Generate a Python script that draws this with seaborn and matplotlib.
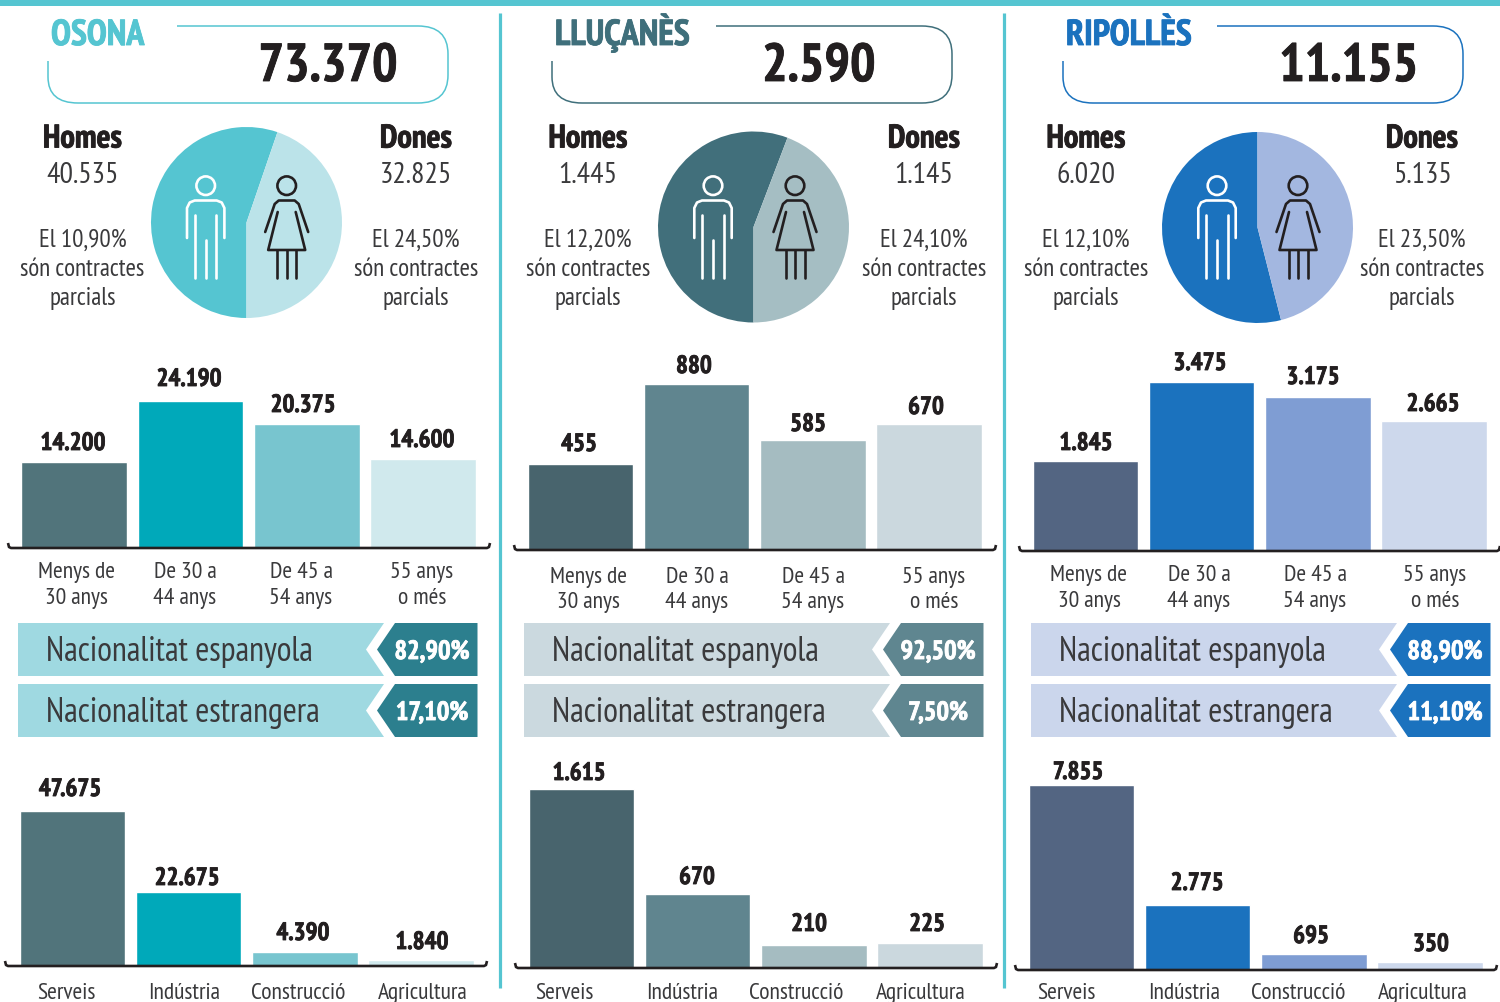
import matplotlib
matplotlib.use('Agg')
import matplotlib.pyplot as plt
import matplotlib.patheffects as pe
from matplotlib.patches import Circle, Polygon, PathPatch
from matplotlib.path import Path
import seaborn as sns

# Data
comarques = ['OSONA', 'LLUÇANÈS', 'RIPOLLÈS']
totals = ['73.370', '2.590', '11.155']
homes = [40535, 1445, 6020]
dones = [32825, 1145, 5135]
parcials_homes = ['10,90', '12,20', '12,10']
parcials_dones = ['24,50', '24,10', '23,50']

age_labels = ['Menys de\n30 anys', 'De 30 a\n44 anys', 'De 45 a\n54 anys', '55 anys\no més']
age_osona = [14200, 24190, 20375, 14600]
age_llucanes = [455, 880, 585, 670]
age_ripolles = [1845, 3475, 3175, 2665]

nat_labels = ['Nacionalitat espanyola', 'Nacionalitat estrangera']
nat_osona = ['82,90', '17,10']
nat_llucanes = ['92,50', '7,50']
nat_ripolles = ['88,90', '11,10']

sector_labels = ['Serveis', 'Indústria', 'Construcció', 'Agricultura']
sector_osona = [47675, 22675, 4390, 1840]
sector_llucanes = [1615, 670, 210, 225]
sector_ripolles = [7855, 2775, 695, 350]

# Colours
accent = ['#55C5D1', '#3F6F7B', '#1B72BE']
pie_colors = [['#55C5D1', '#BBE3E9'], ['#416F7B', '#A5BEC3'], ['#1B72BE', '#A3B7E0']]
bar_colors = [['#51747B', '#00A9BA', '#78C5CF', '#D0E9ED'],
              ['#48646D', '#60858F', '#A5BCC1', '#CBD8DE'],
              ['#536582', '#1B72BE', '#7F9DD3', '#CDD8EC']]
band_light = ['#9FD9E1', '#CBD9DF', '#CBD6EC']
band_dark = ['#2C7F8E', '#5F8690', '#1B72BE']
INK = '#231F20'
GREY = '#3A3A3C'

# Layout in pixels of the 1500x1002 canvas
W, H = 1500, 1002
title_x = [51, 555, 1066]
total_x = [328, 819, 1349]
box_left = [48, 552, 1063]
box_gap = [177, 716, 1217]
pie_center = [(246.5, 222.5), (753.5, 227), (1257.5, 227.5)]
pie_start = [270, 270, 90]
pie_ccw = [False, False, True]
homes_x = [82.5, 588, 1086]
dones_x = [416, 924, 1422]
icon_x = [(205.7, 286.7), (713, 795), (1217, 1298)]

age_left = [21.5, 527.5, 1032.5]
age_base = [548, 550, 551]
age_top = [401, 384, 382]
age_bracket = [(8, 490), (514, 996), (1019, 1500)]
age_label_x = [[76, 185, 301, 422], [588, 697, 813, 934], [1089, 1199, 1315, 1435]]
age_label_y = [578, 583, 581]
age_value_pos = [[(73, 450), (189, 386), (303, 412), (422, 447)],
                 [(579, 451), (694, 373), (808, 431), (926, 414)],
                 [(1086, 450), (1200, 370), (1313, 384), (1433, 411)]]

band_left = [18, 524, 1031]

sector_left = [19.5, 528.5, 1028.5]
sector_base = [966, 968, 970]
sector_top = [811, 789, 785]
sector_bracket = [(5, 487), (515, 997), (1015, 1497)]
sector_label_x = [[66, 184, 298, 423], [564, 682, 796, 921], [1066, 1184, 1298, 1423]]
sector_value_pos = [[(70, 796), (187, 885), (303, 940), (422, 949)],
                    [(579, 780), (697, 884), (809, 931), (927, 931)],
                    [(1078, 779), (1197, 890), (1311, 943), (1431, 951)]]

BAR_W = 105.5
BAR_PITCH = 116.3

sns.set_theme(style='white')
plt.rcParams['font.family'] = ['PT Sans Narrow', 'Barlow Condensed', 'Roboto Condensed', 'Roboto', 'DejaVu Sans']

fig = plt.figure(figsize=(W / 100, H / 100), dpi=100)
canvas = fig.add_axes([0, 0, 1, 1], zorder=5)
canvas.set_xlim(0, W)
canvas.set_ylim(H, 0)
canvas.axis('off')
canvas.patch.set_alpha(0)


def px_axes(left, top, right, bottom):
    return fig.add_axes([left / W, 1 - bottom / H, (right - left) / W, (bottom - top) / H])


def text(x, y, s, size, color=GREY, weight='normal', ha='center'):
    t = canvas.text(x, y, s, fontsize=size, color=color, fontweight=weight, ha=ha, va='baseline')
    if weight == 'bold':
        # the reference's bold is heavier than the font's
        t.set_path_effects([pe.withStroke(linewidth=0.6, foreground=color)])


def draw_bars(values, cats, colors, left, base, top, bracket):
    """Bars with seaborn, scaled so the tallest one reaches the pixel row top"""
    ax = px_axes(bracket[0], top, bracket[1], base)
    sns.barplot(x=cats, y=values, hue=cats, palette=colors, legend=False, saturation=1,
                width=BAR_W / BAR_PITCH, ax=ax)
    first = left + BAR_W / 2
    ax.set_xlim((bracket[0] - first) / BAR_PITCH, (bracket[1] - first) / BAR_PITCH)
    ax.set_ylim(0, max(values))
    ax.axis('off')
    l, r = bracket
    canvas.plot([l, l + 1, l + 3, r - 3, r - 1, r], [base - 5, base - 1, base, base, base - 1, base - 5],
                color=INK, lw=1.9, solid_capstyle='butt', solid_joinstyle='round')


def draw_header(left, gap, color):
    right = left + 400
    top, bottom = 26, 103
    verts = [(gap, top), (right - 30, top), (right, top), (right, top + 28), (right, bottom - 28),
             (right, bottom), (right - 30, bottom), (left + 30, bottom), (left, bottom),
             (left, bottom - 26), (left, 61)]
    codes = [Path.MOVETO, Path.LINETO, Path.CURVE3, Path.CURVE3, Path.LINETO, Path.CURVE3, Path.CURVE3,
             Path.LINETO, Path.CURVE3, Path.CURVE3, Path.LINETO]
    canvas.add_patch(PathPatch(Path(verts, codes), fc='none', ec=color, lw=1.1))


def draw_man(cx, color):
    canvas.add_patch(Circle((cx, 185.7), 9.3, fc='none', ec=color, lw=1.9))
    canvas.plot([cx - 18.7, cx - 18.7, cx - 16, cx - 11, cx + 11, cx + 16, cx + 18.7, cx + 18.7],
                [238, 208, 202.5, 200.5, 200.5, 202.5, 208, 238], color=color, lw=1.9)
    for dx, y0 in zip([-10.7, 0, 10.7], [215, 240, 215]):
        canvas.plot([cx + dx, cx + dx], [y0, 278], color=color, lw=1.9)


def draw_woman(cx, color):
    canvas.add_patch(Circle((cx, 185.7), 9.3, fc='none', ec=color, lw=1.9))
    canvas.plot([cx - 21.5, cx - 12, cx - 8, cx + 8, cx + 12, cx + 21.5],
                [232, 204, 200.5, 200.5, 204, 232], color=color, lw=1.9)
    canvas.plot([cx - 9, cx - 18.5, cx + 18.5, cx + 9], [212, 250, 250, 212], color=color, lw=1.9)
    for dx in [-9.5, 0, 9.5]:
        canvas.plot([cx + dx, cx + dx], [250, 278], color=color, lw=1.9)


def draw_band(left, top, label, pct, light, dark):
    h = 53
    mid = top + h / 2
    canvas.add_patch(Polygon([(left, top), (left + 366, top), (left + 348, mid), (left + 366, top + h),
                              (left, top + h)], fc=light, ec='none'))
    canvas.add_patch(Polygon([(left + 377, top), (left + 459.5, top), (left + 459.5, top + h),
                              (left + 377, top + h), (left + 359, mid)], fc=dark, ec='none'))
    text(left + 28, top + 38, label, 24.5, color=GREY, ha='left')
    text(left + 414, top + 36, pct + '%', 19, color='white', weight='bold')


# Top band and separators
canvas.add_patch(plt.Rectangle((0, 0), W, 6, fc=accent[0], ec='none'))
for sep_x in [500, 1004]:
    canvas.plot([sep_x, sep_x], [13, 988], color=accent[0], lw=2.3, solid_capstyle='butt')

age_values = [age_osona, age_llucanes, age_ripolles]
sector_values = [sector_osona, sector_llucanes, sector_ripolles]
nat_values = [nat_osona, nat_llucanes, nat_ripolles]

for i in range(3):
    # Header
    text(title_x[i], 45, comarques[i], 26, color=accent[i], weight='bold', ha='left')
    text(total_x[i], 81, totals[i], 38.5, color=INK, weight='bold')
    draw_header(box_left[i], box_gap[i], accent[i])

    # Pie and people
    cx, cy = pie_center[i]
    ax = px_axes(cx - 95.5, cy - 95.5, cx + 95.5, cy + 95.5)
    ax.pie([homes[i], dones[i]], colors=pie_colors[i], startangle=pie_start[i],
           counterclock=pie_ccw[i], radius=1, wedgeprops={'linewidth': 0})
    ax.set_xlim(-1, 1)
    ax.set_ylim(-1, 1)
    draw_man(icon_x[i][0], 'white')
    draw_woman(icon_x[i][1], INK)

    for x, name, count, part in [(homes_x[i], 'Homes', homes[i], parcials_homes[i]),
                                 (dones_x[i], 'Dones', dones[i], parcials_dones[i])]:
        text(x, 147.5, name, 23.5, color=INK, weight='bold')
        text(x, 183, f'{count:,}'.replace(',', '.'), 21.5)
        text(x, 247, f'El {part}%', 18)
        text(x, 276, 'són contractes', 18)
        text(x, 305, 'parcials', 18)

    # Age bars
    draw_bars(age_values[i], age_labels, bar_colors[i], age_left[i], age_base[i], age_top[i], age_bracket[i])
    for (x, y), v in zip(age_value_pos[i], age_values[i]):
        text(x, y, f'{v:,}'.replace(',', '.'), 18, color=INK, weight='bold')
    for x, lab in zip(age_label_x[i], age_labels):
        first, second = lab.split('\n')
        text(x, age_label_y[i], first, 17)
        text(x, age_label_y[i] + 26 - (i == 1), second, 17)

    # Nationality bands
    for top, lab, pct in zip([623, 684], nat_labels, nat_values[i]):
        draw_band(band_left[i], top, lab, pct, band_light[i], band_dark[i])

    # Sector bars
    draw_bars(sector_values[i], sector_labels, bar_colors[i], sector_left[i], sector_base[i], sector_top[i],
              sector_bracket[i])
    for (x, y), v in zip(sector_value_pos[i], sector_values[i]):
        text(x, y, f'{v:,}'.replace(',', '.'), 18, color=INK, weight='bold')
    for x, lab in zip(sector_label_x[i], sector_labels):
        text(x, 999, lab, 17)

fig.savefig('out.png', dpi=100)
